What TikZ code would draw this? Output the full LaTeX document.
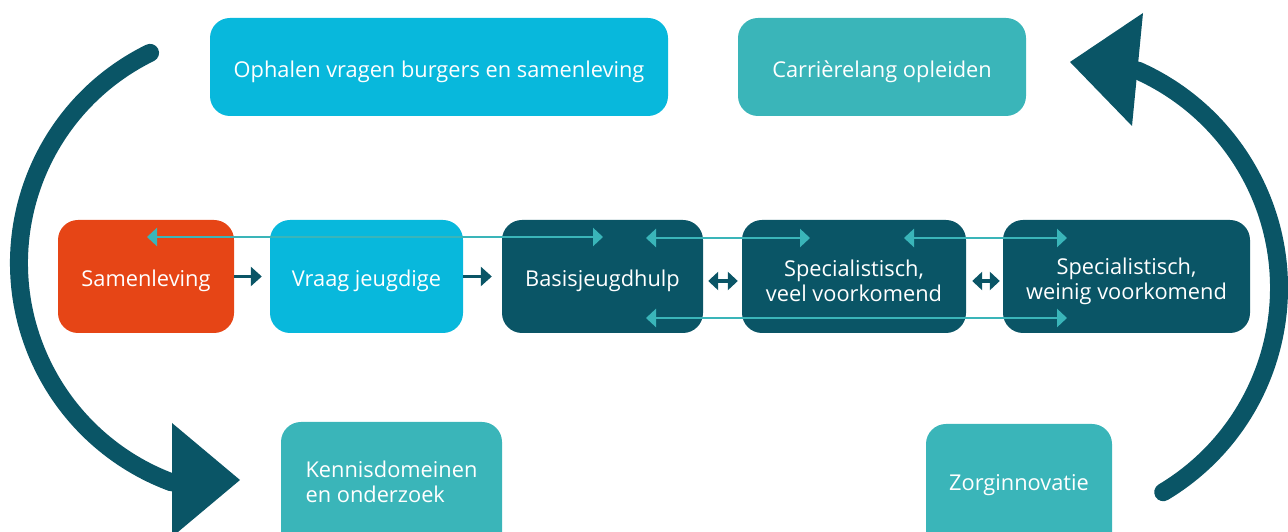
\documentclass[tikz,border=0pt]{standalone}
\usepackage{fontspec}
\setmainfont{Open Sans}
\usetikzlibrary{arrows.meta}
\definecolor{cyanbox}{HTML}{08B8DC}
\definecolor{tealbox}{HTML}{3AB5B9}
\definecolor{darkbox}{HTML}{0A5566}
\definecolor{orangebox}{HTML}{E64516}
\newcommand\firstline{\rule{0pt}{26pt}}
\begin{document}
\begin{tikzpicture}[x=1pt,y=1pt,
  top strut/.style={execute at begin node={\rule{0pt}{#1}}},
  bottom strut/.style={execute at end node={\rule[-#1]{0pt}{0pt}}},
  box/.style={rectangle, rounded corners=20pt, text=white, inner sep=0pt,
    align=center, font=\fontsize{21.8}{25}\selectfont},
  single/.style={box, top strut=26pt},
  link/.style={draw=tealbox, line width=2.5pt,
    {Triangle[length=10pt,width=18pt]}-{Triangle[length=10pt,width=18pt]}},
  step arrow/.style={draw=darkbox, line width=3pt, -{Triangle[length=11pt,width=19pt]}},
  swap arrow/.style={draw=darkbox, line width=4pt,
    {Triangle[length=10pt,width=18pt]}-{Triangle[length=10pt,width=18pt]}},
  cycle arc/.style={draw=darkbox, line width=18pt},
  cycle head/.style={fill=darkbox}]
\useasboundingbox (0,0) rectangle (1288,532);
\clip (0,0) rectangle (1288,532);

% top row
\node[single, fill=cyanbox, minimum width=458pt, minimum height=98pt] (ophalen) at (439,465)
  {Ophalen vragen burgers en samenleving};
\node[single, fill=tealbox, minimum width=288pt, minimum height=98pt] (carriere) at (882,465)
  {Carrièrelang opleiden};

% middle chain
\node[single, fill=orangebox, minimum width=176pt, minimum height=113pt] (sam) at (146,255.5)
  {Samenleving};
\node[single, fill=cyanbox, minimum width=193pt, minimum height=113pt] (vraag) at (366.5,255.5)
  {Vraag jeugdige};
\node[single, fill=darkbox, minimum width=201pt, minimum height=113pt] (basis) at (602.5,255.5)
  {Basisjeugdhulp};
\node[box, fill=darkbox, minimum width=224pt, minimum height=113pt] (veel) at (854,255.5)
  {\firstline Specialistisch,\\veel voorkomend};
\node[box, fill=darkbox, minimum width=247pt, minimum height=113pt] (weinig) at (1126.5,255.5)
  {\firstline Specialistisch,\\weinig voorkomend};

% bottom row (running off the lower edge)
\node[single, fill=tealbox, minimum width=221pt, minimum height=130pt, align=left,
  bottom strut=10pt] (kennis) at (391.5,45)
  {Kennisdomeinen\\en onderzoek};
\node[single, fill=tealbox, minimum width=186pt, minimum height=128pt,
  bottom strut=21pt] (zorg) at (1019,44)
  {Zorginnovatie};

% arrows along the chain
\draw[step arrow] (sam.east) -- ([xshift=-8pt]vraag.west);
\draw[step arrow] (vraag.east) -- ([xshift=-10pt]basis.west);
\coordinate (s1a) at ([xshift=5pt,yshift=-4.5pt]basis.east);
\coordinate (s1b) at ([xshift=-4pt,yshift=-4.5pt]veel.west);
\draw[swap arrow] (s1a) -- (s1b);
\coordinate (s2a) at ([xshift=6pt,yshift=-4.5pt]veel.east);
\coordinate (s2b) at ([xshift=-3pt,yshift=-4.5pt]weinig.west);
\draw[swap arrow] (s2a) -- (s2b);

% thin links between levels
\coordinate (l1a) at (147,295);
\coordinate (l1b) at (603,295);
\coordinate (l2a) at (646,294);
\coordinate (l2b) at (810,294);
\coordinate (l3a) at (904,294);
\coordinate (l3b) at (1067,294);
\coordinate (l4a) at (646,214);
\coordinate (l4b) at (1067,214);
\draw[link] (l1a) -- (l1b);
\draw[link] (l2a) -- (l2b);
\draw[link] (l3a) -- (l3b);
\draw[link] (l4a) -- (l4b);

% left cycle arrow
\draw[cycle arc, line cap=round] (253,269) ++(116.1:234) arc[start angle=116.1, end angle=249.6, radius=234];
\coordinate (lh1) at (172,109);
\coordinate (lh2) at (172,-5);
\coordinate (lh3) at (240,52);
\fill[cycle head] (lh1) -- (lh2) -- (lh3) -- cycle;

% right cycle arrow
\draw[cycle arc, line cap=round] (1041,244) ++(-59.1:238) arc[start angle=-59.1, end angle=66, radius=238];
\coordinate (rh1) at (1143,519);
\coordinate (rh2) at (1132,406);
\coordinate (rh3) at (1070,470);
\fill[cycle head] (rh1) -- (rh2) -- (rh3) -- cycle;
\end{tikzpicture}
\end{document}
